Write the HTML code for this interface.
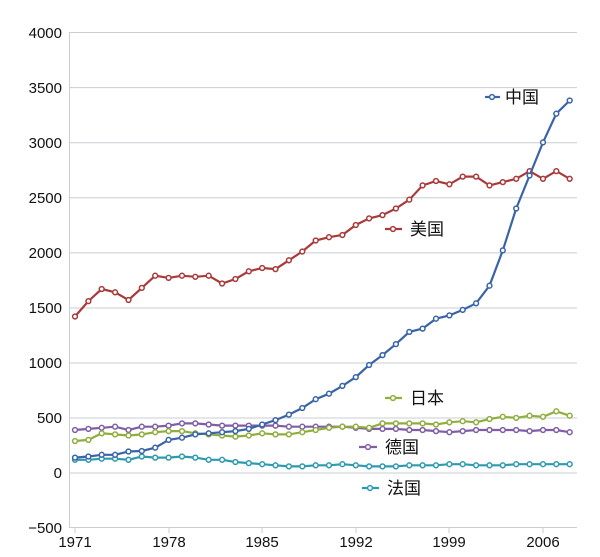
<!DOCTYPE html>
<html><head><meta charset="utf-8"><style>
body{margin:0;background:#fff}
svg text{font-family:"Liberation Sans",sans-serif;fill:#111}
.cjk{font-family:"Liberation Sans","Noto Sans CJK SC",sans-serif;font-size:17px}
</style></head><body>
<svg id="c" width="600" height="552" xmlns="http://www.w3.org/2000/svg">
<g stroke="#c8cdd6" stroke-width="1">
<line x1="69" y1="32.5" x2="577" y2="32.5"/><line x1="69" y1="87.6" x2="577" y2="87.6"/>
<line x1="69" y1="142.7" x2="577" y2="142.7"/><line x1="69" y1="197.8" x2="577" y2="197.8"/>
<line x1="69" y1="252.9" x2="577" y2="252.9"/><line x1="69" y1="308" x2="577" y2="308"/>
<line x1="69" y1="363" x2="577" y2="363"/><line x1="69" y1="418" x2="577" y2="418"/>
<line x1="69" y1="473" x2="577" y2="473"/>
<line x1="69.5" y1="32" x2="69.5" y2="528"/><line x1="69" y1="527.5" x2="577" y2="527.5"/>
<line x1="75" y1="527" x2="75" y2="533"/><line x1="169" y1="527" x2="169" y2="533"/>
<line x1="262" y1="527" x2="262" y2="533"/><line x1="356" y1="527" x2="356" y2="533"/>
<line x1="449" y1="527" x2="449" y2="533"/><line x1="543" y1="527" x2="543" y2="533"/>
</g>
<g font-size="15" text-anchor="end">
<text x="62" y="38">4000</text><text x="62" y="93">3500</text><text x="62" y="148">3000</text>
<text x="62" y="203">2500</text><text x="62" y="258">2000</text><text x="62" y="313">1500</text>
<text x="62" y="368">1000</text><text x="62" y="423">500</text><text x="62" y="478">0</text>
<text x="62" y="533">−500</text>
</g>
<g font-size="15" text-anchor="middle">
<text x="75" y="547">1971</text><text x="169" y="547">1978</text><text x="262" y="547">1985</text>
<text x="356" y="547">1992</text><text x="449" y="547">1999</text><text x="543" y="547">2006</text>
</g>
<g id="s"></g>
<g stroke-width="2.2" fill="#fff">
<line x1="485" y1="97" x2="500" y2="97" stroke="#3a64a8"/><circle cx="492" cy="97" r="2.4" stroke="#3a64a8" stroke-width="1.5"/>
<line x1="385" y1="229" x2="402" y2="229" stroke="#a83a3a"/><circle cx="393" cy="229" r="2.4" stroke="#a83a3a" stroke-width="1.5"/>
<line x1="385" y1="398" x2="402" y2="398" stroke="#8fae3e"/><circle cx="393" cy="398" r="2.4" stroke="#8fae3e" stroke-width="1.5"/>
<line x1="359" y1="447" x2="377" y2="447" stroke="#7f5ea5"/><circle cx="368" cy="447" r="2.4" stroke="#7f5ea5" stroke-width="1.5"/>
<line x1="362" y1="488" x2="379" y2="488" stroke="#2e9ab0"/><circle cx="370" cy="488" r="2.4" stroke="#2e9ab0" stroke-width="1.5"/>
</g>
<text class="cjk" x="505" y="103">中国</text>
<text class="cjk" x="410" y="235">美国</text>
<text class="cjk" x="410" y="404">日本</text>
<text class="cjk" x="385" y="453">德国</text>
<text class="cjk" x="387" y="494">法国</text>
</svg>
<script>
var D=[
["#2e9ab0",[120,120,130,130,120,150,140,140,150,140,120,120,100,90,80,70,60,60,70,70,80,70,60,60,60,70,70,70,80,80,70,70,70,80,80,80,80,80]],
["#7f5ea5",[390,400,410,420,390,420,420,430,450,450,440,430,430,430,430,430,420,420,420,420,420,410,400,400,400,390,390,380,370,380,390,390,390,390,380,390,390,370]],
["#8fae3e",[290,300,360,350,340,350,370,380,380,360,350,340,330,340,360,350,350,370,390,410,420,420,410,450,450,450,450,440,460,470,460,490,510,500,520,510,560,520]],
["#a83a3a",[1420,1560,1670,1640,1570,1680,1790,1770,1790,1780,1790,1720,1760,1830,1860,1850,1930,2010,2110,2140,2160,2250,2310,2340,2400,2480,2610,2650,2620,2690,2690,2610,2640,2670,2740,2670,2740,2670]],
["#3a64a8",[140,150,165,165,195,200,230,300,320,350,360,370,380,400,440,480,530,590,670,720,790,870,980,1070,1170,1280,1310,1400,1430,1480,1540,1700,2020,2400,2700,3000,3260,3380]]];
var g=document.getElementById('s'),h='';
D.forEach(function(s){var p=s[1].map(function(v,i){return (75+13.37*i).toFixed(1)+','+(473-v*0.1102).toFixed(1)});
h+='<polyline points="'+p.join(' ')+'" fill="none" stroke="'+s[0]+'" stroke-width="2.2"/>';
p.forEach(function(q){var a=q.split(',');h+='<circle cx="'+a[0]+'" cy="'+a[1]+'" r="2.4" fill="#fff" stroke="'+s[0]+'" stroke-width="1.5"/>';});});
g.innerHTML=h;
</script>
</body></html>
